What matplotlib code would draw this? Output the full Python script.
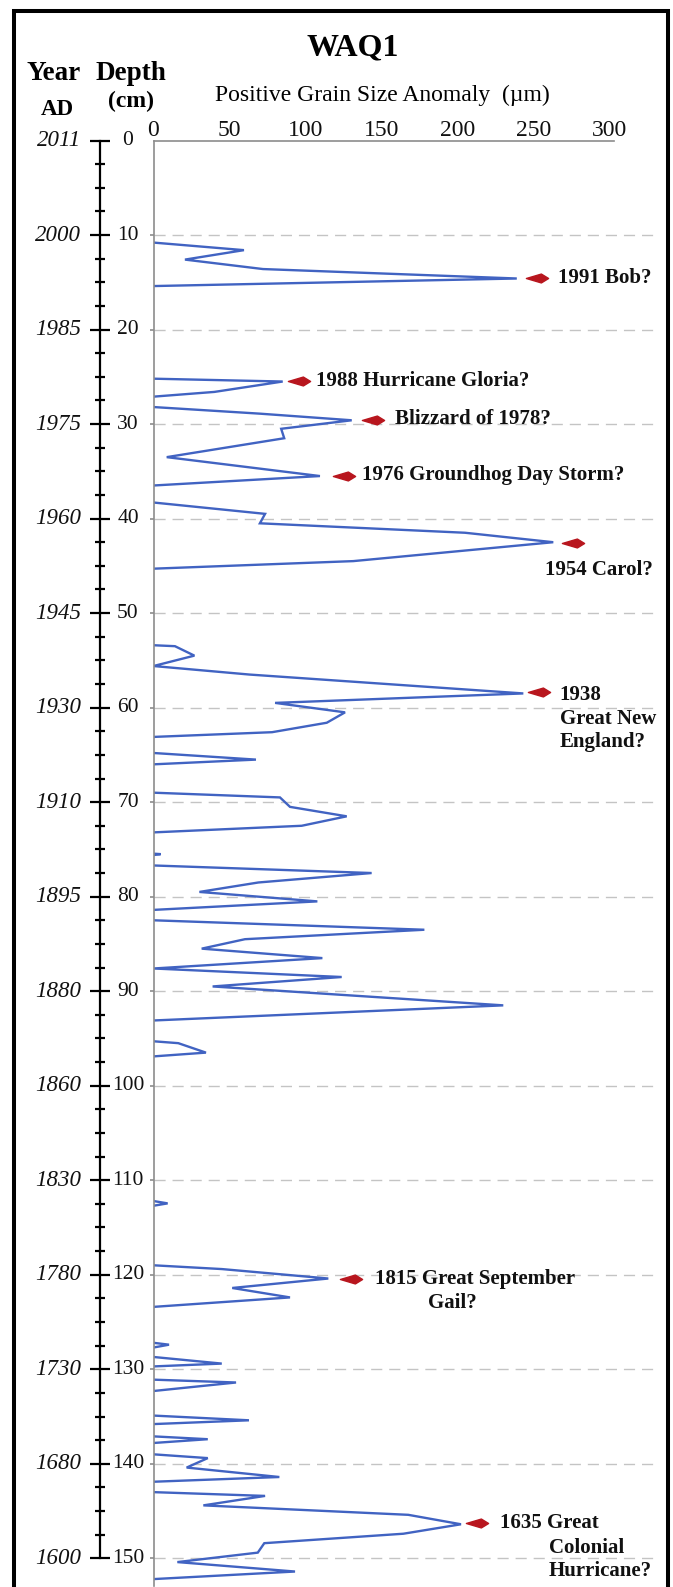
import numpy as np
import matplotlib
matplotlib.use("Agg")
import matplotlib.pyplot as plt
import matplotlib.transforms as mtransforms
from matplotlib.path import Path
from matplotlib.patches import Rectangle

plt.rcParams['font.family'] = ['Liberation Serif', 'DejaVu Serif']

W, H = 673, 1587  # canvas size in pixels (dpi 100)

# WAQ1 core: positive grain size anomaly (um) against depth (cm).
# NaN marks the breaks between intervals with a positive anomaly.
gap = np.nan
depth_cm = [
    10.8, 11.6, 12.6, 13.6, 14.6, 15.4, gap,
    25.2, 25.5, 26.6, 27.1, gap,
    28.2, 28.9, 29.6, 30.5, 31.5, 33.5, 35.5, 36.5, gap,
    38.3, 39.5, 40.5, 41.5, 42.5, 44.5, 45.3, gap,
    53.4, 53.5, 54.5, 55.6, 56.5, 58.5, 59.5, 60.5, 61.6, 62.6, 63.1, gap,
    64.8, 65.5, 66.0, gap,
    69.0, 69.5, 70.5, 71.5, 72.5, 73.2, gap,
    75.45, 75.5, 75.6, gap,
    76.7, 77.5, 78.5, 79.5, 80.5, 81.4, gap,
    82.5, 83.5, 84.5, 85.5, 86.5, 87.6, 88.5, 89.5, 91.5, 93.1, gap,
    95.3, 95.5, 96.5, 96.9, gap,
    112.2, 112.45, 112.7, gap,
    119.0, 119.4, 120.4, 121.4, 122.4, 123.4, gap,
    127.2, 127.4, 127.7, gap,
    128.7, 129.4, 129.7, gap,
    131.1, 131.4, 132.3, gap,
    134.9, 135.4, 135.8, gap,
    137.1, 137.4, 137.8, gap,
    139.0, 139.4, 140.4, 141.4, 141.9, gap,
    143.0, 143.4, 144.4, 145.4, 146.4, 147.4, 148.4, 149.4, 150.4, 151.4, 152.2,
]
anomaly_um = [
    0, 59.5, 20.7, 72, 239, 0, gap,
    0, 85, 40, 0, gap,
    0, 70, 130.4, 84, 86, 8.7, 109.5, 0, gap,
    0, 73.4, 70, 205, 263, 131.4, 0, gap,
    0, 14.1, 26.9, 0, 63, 243.3, 80, 126, 114, 78, 0, gap,
    0, 67.4, 0, gap,
    0, 83.2, 89.8, 127.1, 97.5, 0, gap,
    0, 4.7, 0, gap,
    0, 143.5, 69, 30.2, 107.8, 0, gap,
    0, 178.2, 60.2, 31.7, 111.1, 0, 123.8, 38.9, 230.1, 0, gap,
    0, 16.3, 34.5, 0, gap,
    0, 9.3, 0, gap,
    0, 45, 115, 51.8, 89.8, 0, gap,
    0, 10.2, 0, gap,
    0, 44.9, 0, gap,
    0, 54.3, 0, gap,
    0, 62.8, 0, gap,
    0, 35.7, 0, gap,
    0, 35.7, 21.8, 82.8, 0, gap,
    0, 73.4, 32.8, 167.6, 202.3, 164.4, 72.9, 68.6, 15.7, 93.1, 0,
]

# depth / age scale
depth_major = list(range(0, 151, 10))
year_labels = ['2011', '2000', '1985', '1975', '1960', '1945', '1930', '1910',
               '1895', '1880', '1860', '1830', '1780', '1730', '1680', '1600']
depth_minor = [d + s for d in range(0, 150, 10) for s in (2.5, 5, 7.5)]

# storms tied to the peaks (arrow position in data units)
event_depth = [14.5, 25.4, 29.6, 35.5, 42.55, 58.4, 120.4, 146.3]
event_x = [252, 95.6, 144.3, 125.2, 275.7, 253.7, 130.1, 212.6]

note_lines = ["1991 Bob?", "1988 Hurricane Gloria?", "Blizzard of 1978?",
              "1976 Groundhog Day Storm?", "1954 Carol?",
              "1938", "Great New", "England?",
              "1815 Great September", "Gail?",
              "1635 Great", "Colonial", "Hurricane?"]
note_x = [265.9, 106.7, 158.9, 137.0, 257.4, 267.3, 267.3, 267.3,
          145.7, 180.9, 228.0, 260.2, 260.2]
note_depth = [14.5, 25.4, 29.5, 35.4, 45.4, 58.7, 61.2, 63.6,
              120.4, 123.0, 146.3, 148.9, 151.3]

fig = plt.figure(figsize=(W / 100, H / 100), dpi=100)
fig.patch.set_facecolor('white')


def fx(px):
    return px / W


def fy(py):
    return 1 - py / H


# plot area: 0 um at x=153.5 px, 1.52 px per um; 0 cm at y=140.5 px, 9.452 px per cm
x0, xs = 153.5, 1.52
y0, ys = 140.5, 9.452
xmax, dmax = 332, 152.9
ax = fig.add_axes([fx(x0), fy(y0 + dmax * ys), xmax * xs / W, dmax * ys / H])
ax.set_xlim(0, xmax)
ax.set_ylim(dmax, 0)

ax.plot(anomaly_um, depth_cm, color='#4163C2', lw=1.7, solid_joinstyle='miter')

arrow = Path([(-1, 0), (0.35, 0.4), (1, 0), (0.35, -0.4), (-1, 0)],
             [Path.MOVETO, Path.LINETO, Path.LINETO, Path.LINETO, Path.CLOSEPOLY])
ax.plot(event_x, event_depth, ls='none', marker=arrow, ms=16,
        color='#B8161E', mec='#B8161E')

for txt, x, d in zip(note_lines, note_x, note_depth):
    ax.text(x, d, txt, fontsize=15, fontweight='bold', ha='left', va='center',
            color='#111111')

# axes styling
for side in ('right', 'bottom'):
    ax.spines[side].set_visible(False)
for side in ('top', 'left'):
    ax.spines[side].set_color('#8C8C8C')
    ax.spines[side].set_linewidth(1.2)
ax.spines['top'].set_bounds(0, 303)

ax.xaxis.tick_top()
ax.set_xticks(range(0, 301, 50))
ax.tick_params(axis='x', length=0, pad=0, labelsize=17, colors='#111111')
ax.set_yticks(depth_major[1:])
ax.tick_params(axis='y', direction='out', length=3, width=1.2,
               color='#8C8C8C', labelleft=False)
ax.grid(axis='y', color='#C4C4C4', linestyle=(0, (8, 5)), linewidth=1.0)
ax.set_axisbelow(True)

# depth / year ruler left of the plot
blend = mtransforms.blended_transform_factory(fig.transFigure, ax.transData)
rx = fx(99.5)
ax.plot([rx, rx], [0, 150], transform=blend, color='black', lw=1.6, clip_on=False)
ax.plot([rx] * len(depth_major), depth_major, transform=blend, ls='none',
        marker='_', ms=15, mew=1.6, color='black', clip_on=False)
ax.plot([rx] * len(depth_minor), depth_minor, transform=blend, ls='none',
        marker='_', ms=7.5, mew=1.6, color='black', clip_on=False)
for d, yr in zip(depth_major, year_labels):
    ax.text(fx(81), d, yr, transform=blend, ha='right', va='center',
            fontsize=16.5, style='italic', color='#111111')
    ax.text(fx(128), d, str(d), transform=blend, ha='center', va='center',
            fontsize=15.5, color='#111111')

# headings
fig.text(fx(353), fy(55), 'WAQ1', ha='center', va='baseline',
         fontsize=23, fontweight='bold')
fig.text(fx(26.7), fy(80), 'Year', ha='left', va='baseline',
         fontsize=19.5, fontweight='bold')
fig.text(fx(95.6), fy(80), 'Depth', ha='left', va='baseline',
         fontsize=19.5, fontweight='bold')
fig.text(fx(40.9), fy(115), 'AD', ha='left', va='baseline',
         fontsize=16.5, fontweight='bold')
fig.text(fx(107.7), fy(107.5), '(cm)', ha='left', va='baseline',
         fontsize=17, fontweight='bold')
fig.text(fx(215.3), fy(101.5), 'Positive Grain Size Anomaly  (\u00b5m)',
         ha='left', va='baseline', fontsize=17)

# outer frame (runs off the bottom edge)
fig.patches.append(Rectangle((fx(13.8), fy(1600)), fx(667.6) - fx(13.8),
                             fy(11.3) - fy(1600), transform=fig.transFigure,
                             fill=False, edgecolor='black', lw=2.9))

fig.savefig('out.png', dpi=100)
